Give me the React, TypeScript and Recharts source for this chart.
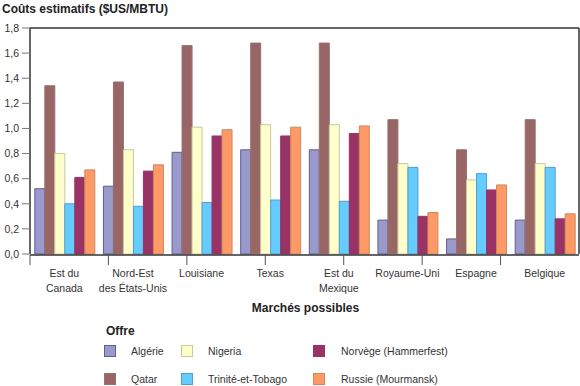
import { BarChart, Bar, XAxis, YAxis } from "recharts";

document.body.style.margin = "0";

const markets = [
  "Est du\nCanada",
  "Nord-Est\ndes États-Unis",
  "Louisiane",
  "Texas",
  "Est du\nMexique",
  "Royaume-Uni",
  "Espagne",
  "Belgique",
];

const algerie = [0.52, 0.54, 0.81, 0.83, 0.83, 0.27, 0.12, 0.27];
const qatar = [1.34, 1.37, 1.66, 1.68, 1.68, 1.07, 0.83, 1.07];
const nigeria = [0.8, 0.83, 1.01, 1.03, 1.03, 0.72, 0.59, 0.72];
const trinite = [0.4, 0.38, 0.41, 0.43, 0.42, 0.69, 0.64, 0.69];
const norvege = [0.61, 0.66, 0.94, 0.94, 0.96, 0.3, 0.51, 0.28];
const russie = [0.67, 0.71, 0.99, 1.01, 1.02, 0.33, 0.55, 0.32];

const yTicks = [0, 0.2, 0.4, 0.6, 0.8, 1.0, 1.2, 1.4, 1.6, 1.8];
const boundaryTicks = [0, 1, 2, 3, 4, 5, 6, 7, 8];

const series = [
  { key: "algerie", name: "Algérie", fill: "#9999CC", stroke: "#5F5F90" },
  { key: "qatar", name: "Qatar", fill: "#996666", stroke: "#9A7070" },
  { key: "nigeria", name: "Nigeria", fill: "#FFFFCC", stroke: "#C9C99C" },
  { key: "trinite", name: "Trinité-et-Tobago", fill: "#66CCFF", stroke: "#4C9FD0" },
  { key: "norvege", name: "Norvège (Hammerfest)", fill: "#993366", stroke: "#993366" },
  { key: "russie", name: "Russie (Mourmansk)", fill: "#FF9966", stroke: "#C98A5E" },
];

const data = markets.map((m, i) => ({
  market: m,
  algerie: algerie[i],
  qatar: qatar[i],
  nigeria: nigeria[i],
  trinite: trinite[i],
  norvege: norvege[i],
  russie: russie[i],
}));

const font = "'Liberation Sans', Arial, sans-serif";

const MarketTick = (props: any) => {
  const { x, y, payload } = props;
  const lines = String(payload.value).split("\n");
  return (
    <g>
      {lines.map((l, i) => (
        <text
          key={i}
          x={x}
          y={y + 15 + i * 15}
          textAnchor="middle"
          fontSize={10.5}
          fontFamily={font}
          fill="#333"
        >
          {l}
        </text>
      ))}
    </g>
  );
};

const EmptyTick = () => <g />;

const legendCols = [
  { left: 104, items: [series[0], series[1]] },
  { left: 181, items: [series[2], series[3]] },
  { left: 313, items: [series[4], series[5]] },
];

export default function App() {
  return (
    <div style={{ position: "relative", width: 580, height: 386, background: "#fff", fontFamily: font }}>
      <div style={{ position: "absolute", left: 2, top: 2, fontSize: 12, fontWeight: "bold", color: "#222" }}>
        Coûts estimatifs ($US/MBTU)
      </div>
      <BarChart
        width={580}
        height={386}
        data={data}
        margin={{ top: 27, right: 0, left: 0, bottom: 130 }}
        barCategoryGap="7%"
        barGap={0}
      >
        <XAxis
          xAxisId="top"
          orientation="top"
          dataKey="market"
          height={1}
          tick={EmptyTick}
          tickLine={false}
          axisLine={{ stroke: "#333", strokeWidth: 1.5 }}
        />
        <XAxis
          xAxisId="bounds"
          type="number"
          domain={[0, 8]}
          ticks={boundaryTicks}
          allowDataOverflow
          height={1}
          tick={EmptyTick}
          tickSize={10}
          tickLine={{ stroke: "#555" }}
          axisLine={{ stroke: "#333", strokeWidth: 1.5 }}
        />
        <XAxis
          dataKey="market"
          height={1}
          axisLine={false}
          tickLine={false}
          interval={0}
          tick={<MarketTick />}
        />
        <YAxis
          width={30}
          domain={[0, 1.8]}
          ticks={yTicks}
          interval={0}
          tickSize={8}
          tickMargin={3}
          tickFormatter={(v: number) => v.toFixed(1).replace(".", ",")}
          tick={{ fontSize: 10.5, fontFamily: font, fill: "#333" }}
          tickLine={{ stroke: "#777" }}
          axisLine={{ stroke: "#333", strokeWidth: 1.5 }}
        />
        <YAxis
          yAxisId="right"
          orientation="right"
          width={1}
          domain={[0, 1.8]}
          tick={EmptyTick}
          tickLine={false}
          axisLine={{ stroke: "#333", strokeWidth: 1.5 }}
        />
        {series.map((s) => (
          <Bar
            key={s.key}
            dataKey={s.key}
            name={s.name}
            fill={s.fill}
            stroke={s.stroke}
            strokeWidth={1}
            isAnimationActive={false}
          />
        ))}
      </BarChart>
      <div
        style={{
          position: "absolute",
          left: 0,
          width: 611,
          top: 301,
          textAlign: "center",
          fontSize: 12,
          fontWeight: "bold",
          color: "#222",
        }}
      >
        Marchés possibles
      </div>
      <div style={{ position: "absolute", left: 106, top: 324, fontSize: 12, fontWeight: "bold", color: "#222" }}>
        Offre
      </div>
      {legendCols.map((col, ci) =>
        col.items.map((s, ri) => (
          <div
            key={s.key}
            style={{
              position: "absolute",
              left: col.left,
              top: 345 + ri * 28,
              display: "flex",
              alignItems: "center",
              fontSize: 10.5,
              color: "#333",
            }}
          >
            <span
              style={{
                display: "inline-block",
                width: 10,
                height: 10,
                background: s.fill,
                border: `1px solid ${s.stroke}`,
                marginRight: ci === 2 ? 16 : 15,
              }}
            />
            <span>{s.name}</span>
          </div>
        ))
      )}
    </div>
  );
}
